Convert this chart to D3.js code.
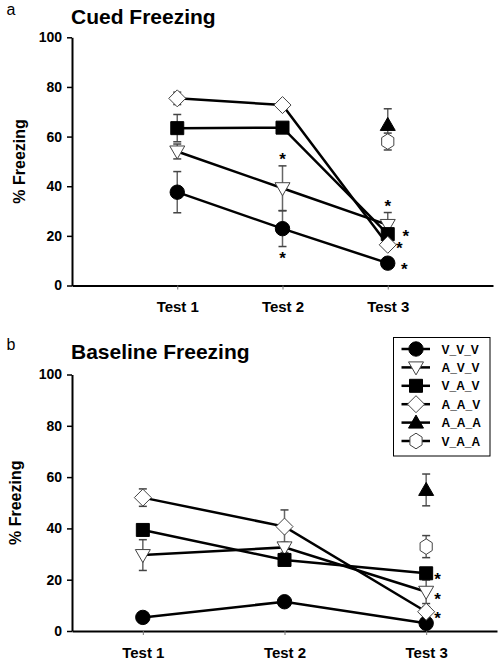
<!DOCTYPE html>
<html>
<head>
<meta charset="utf-8">
<script src="https://cdn.jsdelivr.net/npm/d3@7"></script>
<style>
  html, body { margin: 0; padding: 0; background: #fff; }
  svg { display: block; font-family: Arial, "Liberation Sans", sans-serif; }
</style>
</head>
<body>
<svg id="chart" width="504" height="670"></svg>
<script>
// ---------------- data ----------------
const groups = ["V_V_V", "A_V_V", "V_A_V", "A_A_V", "A_A_A", "V_A_A"];
const tests = ["Test 1", "Test 2", "Test 3"];
const yTicks = [0, 20, 40, 60, 80, 100];

// Cued freezing (panel a): mean per test, and SEM
const cuedVVV = [37.6, 22.9, 9.0];
const cuedAVV = [54.0, 39.2, 24.4];
const cuedVAV = [63.4, 63.6, 20.7];
const cuedAAV = [75.4, 72.7, 16.4];
const cuedAAA = [null, null, 64.7];
const cuedVAA = [null, null, 58.0];
const cuedErrVVV = [8.3, 7.2, 1.2];
const cuedErrAVV = [3.0, 9.0, 5.0];
const cuedErrVAV = [5.5, 1.2, 1.5];
const cuedErrAAV = [2.5, 1.2, 1.5];
const cuedErrAAA = [null, null, 6.5];
const cuedErrVAA = [null, null, 3.4];
const cuedStars = [
  { test: 2, group: "A_V_V", pos: "above" },
  { test: 2, group: "V_V_V", pos: "below" },
  { test: 3, group: "A_V_V", pos: "above" },
  { test: 3, group: "V_A_V", pos: "right" },
  { test: 3, group: "A_A_V", pos: "right" },
  { test: 3, group: "V_V_V", pos: "right" }
];

// Baseline freezing (panel b)
const baseVVV = [5.3, 11.4, 3.0];
const baseAVV = [29.6, 32.6, 15.3];
const baseVAV = [39.4, 27.7, 22.5];
const baseAAV = [52.0, 40.7, 7.5];
const baseAAA = [null, null, 55.0];
const baseVAA = [null, null, 32.9];
const baseErrVVV = [1.0, 1.5, 1.0];
const baseErrAVV = [6.0, 2.0, 4.6];
const baseErrVAV = [1.5, 1.5, 2.0];
const baseErrAAV = [3.4, 6.5, 2.0];
const baseErrAAA = [null, null, 6.2];
const baseErrVAA = [null, null, 4.3];
const baseStars = [
  { test: 3, group: "V_A_V", pos: "right" },
  { test: 3, group: "A_V_V", pos: "right" },
  { test: 3, group: "A_A_V", pos: "right" }
];

// ---------------- styling / layout ----------------
const FONT = 'Arial, "Liberation Sans", sans-serif';
const markerStyle = {
  "V_V_V": { shape: "circle", fill: "#000" },
  "A_V_V": { shape: "triDown", fill: "#fff" },
  "V_A_V": { shape: "square", fill: "#000" },
  "A_A_V": { shape: "diamond", fill: "#fff" },
  "A_A_A": { shape: "triUp", fill: "#000" },
  "V_A_A": { shape: "hexagon", fill: "#fff" }
};
// horizontal / vertical nudges (pixels) for the stars placed right of a marker
const starNudgeA = { "V_A_V": [18, 0], "A_A_V": [11.5, 1], "V_V_V": [16.5, 3.5] };
const starNudgeB = { "V_A_V": [11.5, 4], "A_V_V": [11.5, 5], "A_A_V": [11.5, 4.3] };

function shapePath(shape) {
  switch (shape) {
    case "circle": { const r = 7.2; return `M${-r},0A${r},${r} 0 1,0 ${r},0A${r},${r} 0 1,0 ${-r},0Z`; }
    case "square": { const s = 6.5; return `M${-s},${-s}H${s}V${s}H${-s}Z`; }
    case "diamond": { const s = 8.5; return `M0,${-s}L${s},0L0,${s}L${-s},0Z`; }
    case "triDown": return "M-7.5,-5.5L7.5,-5.5L0,7.5Z";
    case "triUp": return "M-7.5,5.5L7.5,5.5L0,-7.5Z";
    case "hexagon": {
      const r = 7.8, pts = [];
      for (let i = 0; i < 6; i++) {
        const a = -Math.PI / 2 + i * Math.PI / 3;
        pts.push([r * Math.cos(a) * 0.9, r * Math.sin(a)]);
      }
      return "M" + pts.map(p => p.join(",")).join("L") + "Z";
    }
  }
}

const svg = d3.select("#chart");

function drawPanel(cfg) {
  const { means, errs, stars, nudge, x, y, title, letter, letterY, titleY, ylabX } = cfg;
  const g = svg.append("g");

  // y axis
  const yAxis = d3.axisLeft(y).tickValues(yTicks).tickSize(5).tickSizeOuter(0).tickPadding(5);
  const ya = g.append("g").attr("transform", `translate(${x.range()[0]},0)`).call(yAxis);
  ya.select(".domain").attr("stroke", "#000").attr("stroke-width", 2);
  ya.selectAll(".tick line").attr("stroke", "#000").attr("stroke-width", 1.5);
  ya.selectAll(".tick text").attr("font-family", FONT).attr("font-size", 14)
    .attr("font-weight", "bold").attr("fill", "#000");

  // x axis
  const xAxis = d3.axisBottom(x).tickValues([1, 2, 3]).tickFormat((d, i) => tests[i])
    .tickSize(4).tickSizeOuter(0).tickPadding(12);
  const xa = g.append("g").attr("transform", `translate(0,${y.range()[0]})`).call(xAxis);
  xa.select(".domain").attr("stroke", "#000").attr("stroke-width", 2);
  xa.selectAll(".tick line").attr("stroke", "#777").attr("stroke-width", 1);
  xa.selectAll(".tick text").attr("font-family", FONT).attr("font-size", 15)
    .attr("font-weight", "bold").attr("fill", "#000");

  // titles
  g.append("text").attr("x", 6.5).attr("y", letterY).text(letter)
    .attr("font-family", FONT).attr("font-size", 16).attr("fill", "#000");
  g.append("text").attr("x", 71).attr("y", titleY).text(title)
    .attr("font-family", FONT).attr("font-size", 21).attr("font-weight", "bold").attr("fill", "#000");
  const yMid = (y.range()[0] + y.range()[1]) / 2;
  g.append("text").attr("transform", `translate(${ylabX},${yMid}) rotate(-90)`)
    .attr("text-anchor", "middle").attr("dominant-baseline", "central")
    .text("% Freezing").attr("font-family", FONT).attr("font-size", 16)
    .attr("font-weight", "bold").attr("fill", "#000");

  // error bars
  const eg = g.append("g");
  groups.forEach(grp => {
    means[grp].forEach((m, i) => {
      const e = errs[grp][i];
      if (m == null || e == null) return;
      const cx = x(i + 1);
      const y1 = y(m + e), y2 = y(m - e);
      eg.append("line").attr("x1", cx).attr("x2", cx).attr("y1", y1).attr("y2", y2)
        .attr("stroke", "#666").attr("stroke-width", 1.5);
      [y1, y2].forEach(yy => eg.append("line").attr("x1", cx - 4).attr("x2", cx + 4)
        .attr("y1", yy).attr("y2", yy).attr("stroke", "#444").attr("stroke-width", 1.5));
    });
  });

  // lines
  const line = d3.line().defined(d => d[1] != null).x(d => x(d[0])).y(d => y(d[1]));
  groups.forEach(grp => {
    const pts = means[grp].map((m, i) => [i + 1, m]);
    g.append("path").attr("d", line(pts)).attr("fill", "none")
      .attr("stroke", "#000").attr("stroke-width", 2.5);
  });

  // markers
  groups.forEach(grp => {
    const st = markerStyle[grp];
    means[grp].forEach((m, i) => {
      if (m == null) return;
      g.append("path").attr("d", shapePath(st.shape))
        .attr("transform", `translate(${x(i + 1)},${y(m)})`)
        .attr("fill", st.fill).attr("stroke", st.fill === "#000" ? "#000" : "#444")
        .attr("stroke-width", 1);
    });
  });

  // significance stars
  stars.forEach(s => {
    const m = means[s.group][s.test - 1];
    const e = errs[s.group][s.test - 1] || 0;
    let cx = x(s.test), cy;
    if (s.pos === "above") cy = y(m + e) - 9;
    else if (s.pos === "below") cy = y(m - e) + 9;
    else { const n = nudge[s.group] || [14, 3]; cx += n[0]; cy = y(m) + n[1]; }
    g.append("text").attr("x", cx).attr("y", cy + 8).attr("text-anchor", "middle")
      .text("*").attr("font-family", FONT).attr("font-size", 17)
      .attr("font-weight", "bold").attr("fill", "#000");
  });
}

const cuedMeans = { "V_V_V": cuedVVV, "A_V_V": cuedAVV, "V_A_V": cuedVAV, "A_A_V": cuedAAV, "A_A_A": cuedAAA, "V_A_A": cuedVAA };
const cuedErrs = { "V_V_V": cuedErrVVV, "A_V_V": cuedErrAVV, "V_A_V": cuedErrVAV, "A_A_V": cuedErrAAV, "A_A_A": cuedErrAAA, "V_A_A": cuedErrVAA };
const baseMeans = { "V_V_V": baseVVV, "A_V_V": baseAVV, "V_A_V": baseVAV, "A_A_V": baseAAV, "A_A_A": baseAAA, "V_A_A": baseVAA };
const baseErrs = { "V_V_V": baseErrVVV, "A_V_V": baseErrAVV, "V_A_V": baseErrVAV, "A_A_V": baseErrAAV, "A_A_A": baseErrAAA, "V_A_A": baseErrVAA };

drawPanel({
  means: cuedMeans, errs: cuedErrs, stars: cuedStars, nudge: starNudgeA,
  x: d3.scaleLinear().domain([0, 4]).range([72, 493]),
  y: d3.scaleLinear().domain([0, 100]).range([285.5, 37.3]),
  title: "Cued Freezing", letter: "a", letterY: 15, titleY: 24, ylabX: 19
});

drawPanel({
  means: baseMeans, errs: baseErrs, stars: baseStars, nudge: starNudgeB,
  x: d3.scaleLinear().domain([0.5, 3.5]).range([72, 497]),
  y: d3.scaleLinear().domain([0, 100]).range([631, 374.5]),
  title: "Baseline Freezing", letter: "b", letterY: 350, titleY: 358.5, ylabX: 15
});

// legend (panel b)
const lg = svg.append("g");
lg.append("rect").attr("x", 393.5).attr("y", 337.5).attr("width", 96.5).attr("height", 118.5)
  .attr("fill", "#fff").attr("stroke", "#000").attr("stroke-width", 1);
const legY = d3.scalePoint().domain(groups).range([349, 441]);
groups.forEach(grp => {
  const cy = legY(grp), st = markerStyle[grp];
  lg.append("line").attr("x1", 401.5).attr("x2", 430).attr("y1", cy).attr("y2", cy)
    .attr("stroke", "#000").attr("stroke-width", 2.5);
  lg.append("path").attr("d", shapePath(st.shape)).attr("transform", `translate(416,${cy})`)
    .attr("fill", st.fill).attr("stroke", st.fill === "#000" ? "#000" : "#444").attr("stroke-width", 1);
  lg.append("text").attr("x", 441.5).attr("y", cy + 4.5).text(grp)
    .attr("font-family", FONT).attr("font-size", 12).attr("font-weight", "bold").attr("fill", "#000");
});
</script>
</body>
</html>
